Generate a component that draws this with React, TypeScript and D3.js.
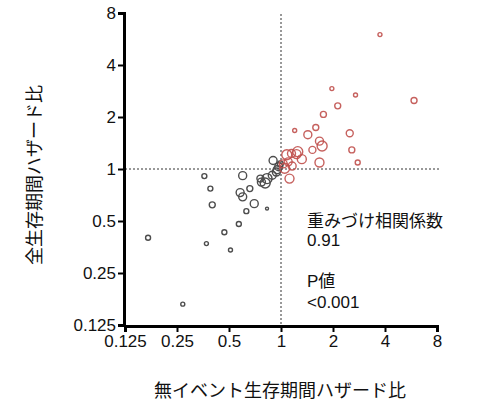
import React, { useEffect, useRef } from 'react';
import * as d3 from 'd3';

// Event-free survival HR (x) vs overall survival HR (y), per trial
const redX = [3.74, 1.97, 2.7, 5.89, 2.13, 1.76, 1.59, 1.2, 1.43, 2.5, 1.67, 1.73, 1.52, 2.57, 1.67, 2.78, 1.25, 1.23, 1.32, 1.12, 1.08, 1.15, 1.1, 1.05, 1.16, 1.03];
const redY = [6.0, 2.92, 2.68, 2.49, 2.32, 2.07, 1.74, 1.67, 1.58, 1.61, 1.45, 1.36, 1.29, 1.29, 1.09, 1.09, 1.26, 1.22, 1.14, 0.88, 1.21, 1.23, 1.1, 1.01, 1.04, 1.07];
const redR = [2, 2, 2, 3, 3, 3, 3, 2, 4, 3.5, 4, 5, 3.5, 3, 4.5, 2.5, 5, 4.5, 4.5, 4.5, 5, 4, 4, 5, 4, 4];

const grayX = [0.9, 0.6, 0.36, 0.39, 0.58, 0.6, 0.66, 0.4, 0.7, 0.63, 0.83, 0.57, 0.17, 0.27, 0.37, 0.47, 0.51, 0.76, 0.77, 0.81, 0.83, 0.95, 0.97, 0.94, 0.89, 0.99];
const grayY = [1.12, 0.915, 0.91, 0.77, 0.73, 0.69, 0.77, 0.62, 0.63, 0.57, 0.59, 0.48, 0.4, 0.165, 0.37, 0.43, 0.34, 0.88, 0.84, 0.83, 0.88, 0.99, 1.03, 0.96, 0.92, 1.07];
const grayR = [4, 4, 2.5, 2.5, 4, 4, 3, 3, 4, 2.5, 1.5, 2.5, 2.5, 2, 2, 2.5, 2, 3.5, 4, 5, 5, 4, 4, 4, 4, 3];

const tickValues = [0.125, 0.25, 0.5, 1, 2, 4, 8];
const tickLabels = ['0.125', '0.25', '0.5', '1', '2', '4', '8'];

const xTitle = '無イベント生存期間ハザード比';
const yTitle = '全生存期間ハザード比';
const noteLines = ['重みづけ相関係数', '0.91', '', 'P値', '<0.001'];

const FONT = '"Liberation Sans", Arial, "Noto Sans CJK JP", sans-serif';

const App: React.FC = () => {
  const xAxisRef = useRef<SVGGElement>(null);
  const yAxisRef = useRef<SVGGElement>(null);

  const x = d3.scaleLog().base(2).domain([0.125, 8]).range([125, 437]);
  const y = d3.scaleLog().base(2).domain([0.125, 8]).range([325, 13]);

  useEffect(() => {
    const fmt = (d: d3.NumberValue) => tickLabels[tickValues.indexOf(+d)];

    const xa = d3.select(xAxisRef.current!);
    xa.selectAll('*').remove();
    xa.call(d3.axisBottom(x).tickValues(tickValues).tickFormat(fmt).tickSizeOuter(0).tickSize(6).tickPadding(3));
    xa.select('.domain').attr('stroke-width', 3);
    xa.selectAll('.tick line').attr('stroke-width', 2);
    xa.selectAll('.tick text').style('font-size', '17px').style('font-family', FONT).attr('fill', '#111');

    const ya = d3.select(yAxisRef.current!);
    ya.selectAll('*').remove();
    ya.call(d3.axisLeft(y).tickValues(tickValues).tickFormat(fmt).tickSizeOuter(0).tickSize(6).tickPadding(2));
    ya.select('.domain').attr('stroke-width', 3);
    ya.selectAll('.tick line').attr('stroke-width', 2);
    ya.selectAll('.tick text').style('font-size', '17px').style('font-family', FONT).attr('fill', '#111');
  }, []);

  return (
    <svg width={480} height={409} style={{ position: 'fixed', left: 0, top: 0, background: '#fff' }}>
      {/* reference lines at HR = 1 */}
      <line x1={x(1)} x2={x(1)} y1={14} y2={y(0.125)} stroke="#333" strokeWidth={1} strokeDasharray="2,2" />
      <line x1={x(0.125)} x2={440} y1={y(1)} y2={y(1)} stroke="#333" strokeWidth={1} strokeDasharray="2,2" />

      {grayX.map((v, i) => (
        <circle key={'g' + i} cx={x(v)} cy={y(grayY[i])} r={grayR[i]} fill="none" stroke="#4d4d4d" strokeWidth={1.4} />
      ))}
      {redX.map((v, i) => (
        <circle key={'r' + i} cx={x(v)} cy={y(redY[i])} r={redR[i]} fill="none" stroke="#c0504d" strokeWidth={1.4} strokeOpacity={0.9} />
      ))}

      <g ref={xAxisRef} transform={`translate(0, ${y(0.125) + 1})`} />
      <g ref={yAxisRef} transform={`translate(${x(0.125) - 1}, 0)`} />

      {noteLines.map((t, i) => (
        <text key={i} x={307} y={227 + [0, 19, 0, 60, 81][i]} fontSize={17} fontFamily={FONT} fill="#111">{t}</text>
      ))}

      <text x={280} y={397} textAnchor="middle" fontSize={18} fontFamily={FONT} fill="#111">{xTitle}</text>
      <text transform="translate(41, 175) rotate(-90)" textAnchor="middle" fontSize={18} fontFamily={FONT} fill="#111">{yTitle}</text>
    </svg>
  );
};

export default App;
